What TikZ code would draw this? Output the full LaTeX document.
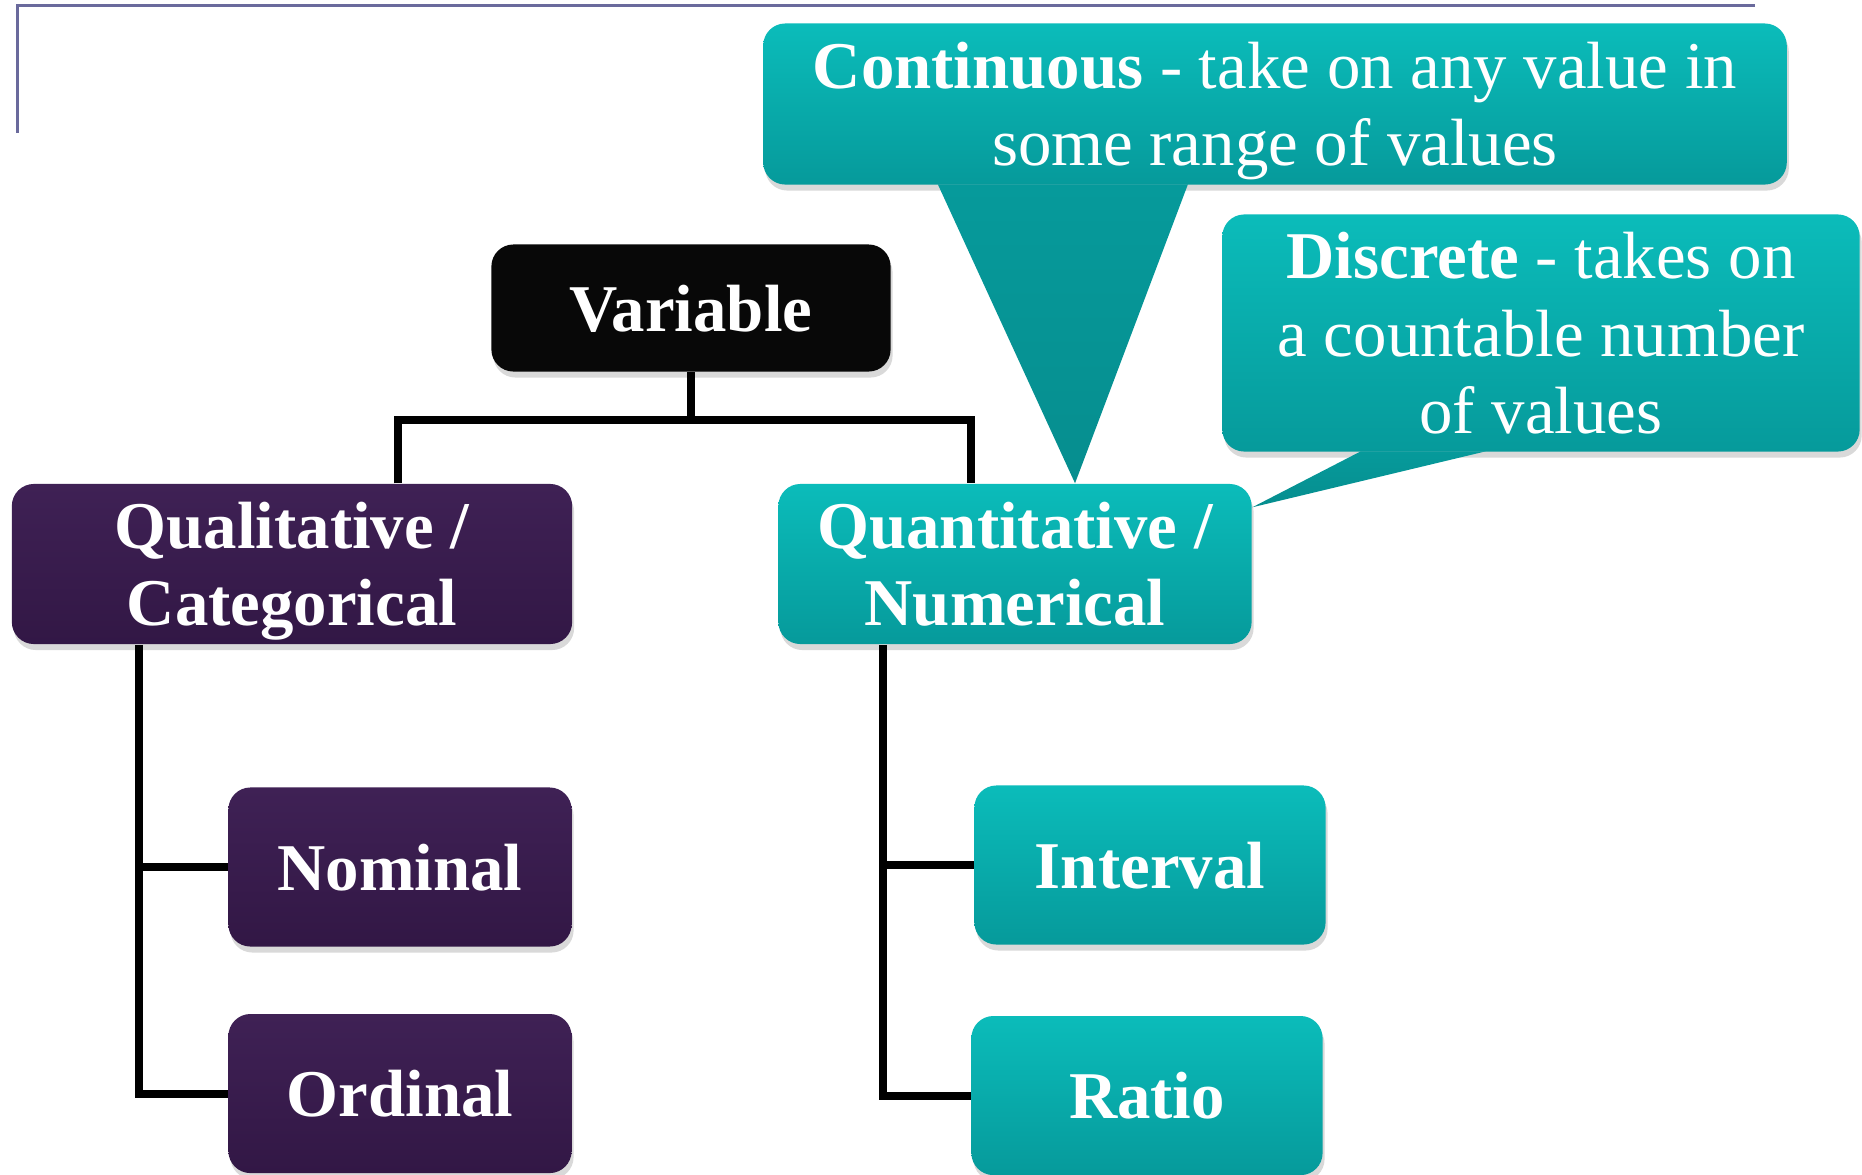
\documentclass[tikz,border=0pt]{standalone}
\usepackage{fontspec}
\setmainfont{Liberation Serif}
\usetikzlibrary{positioning,shadows}
\definecolor{framelilac}{HTML}{6A6A9C}
\definecolor{qualtop}{HTML}{3F2155}
\definecolor{qualbot}{HTML}{321745}
\definecolor{quanttop}{HTML}{0BBCBA}
\definecolor{quantbot}{HTML}{069A9B}

\begin{document}
\begin{tikzpicture}[x=0.01cm,y=-0.01cm,
  every node/.style={font=\fontsize{19}{22}\selectfont,text=white,align=center,inner sep=0pt,text depth=0pt},
  boxbase/.style={rounded corners=0.22cm,drop shadow={shadow xshift=0.02cm,shadow yshift=-0.06cm,opacity=0.3}},
  qualbox/.style={boxbase,top color=qualtop,bottom color=qualbot,font=\fontsize{19}{22}\selectfont\bfseries,minimum width=3.43cm,minimum height=1.59cm},
  quantbox/.style={boxbase,top color=quanttop,bottom color=quantbot,font=\fontsize{19}{22}\selectfont\bfseries,minimum width=3.51cm,minimum height=1.59cm},
  link/.style={line width=2.3pt,line join=miter}]
\useasboundingbox (0,0) rectangle (1862,1175);

% frame corner
\draw[framelilac,line width=0.035cm] (1755,5.5) -- (17.5,5.5) -- (17.5,133);

% tree
\node[boxbase,fill=black!97,font=\fontsize{19}{22}\selectfont\bfseries,minimum width=3.99cm,minimum height=1.27cm] (var) at (691,308) {Variable};
\node[qualbox,minimum width=5.60cm,minimum height=1.60cm] (qual) at (292,564) {Qualitative /\\Categorical};
\node[quantbox,minimum width=4.73cm,minimum height=1.60cm] (quant) at (1015,564) {Quantitative /\\Numerical};
\node[qualbox] (nominal) at (400,867) {Nominal};
\node[qualbox,below=0.66cm of nominal] (ordinal) {Ordinal};
\node[quantbox] (interval) at (1150,865) {Interval};
\node[quantbox,below=0.70cm of interval,xshift=-0.03cm] (ratio) {Ratio};

\draw[link] (var.south) -- ++(0,48) coordinate (hub);
\draw[link] ([xshift=1.06cm]qual.north) |- (hub) -| ([xshift=-0.44cm]quant.north);

\coordinate (qltrunk) at ([xshift=1.28cm]qual.south west);
\draw[link] (qltrunk) |- (ordinal.west);
\draw[link] (qltrunk |- nominal.west) -- (nominal.west);
\coordinate (qntrunk) at ([xshift=1.05cm]quant.south west);
\draw[link] (qntrunk) |- (ratio.west);
\draw[link] (qntrunk |- interval.west) -- (interval.west);

% callouts
\node[boxbase,top color=quanttop,bottom color=quantbot,minimum width=10.23cm,minimum height=1.61cm] (cont) at (1275,104)
  {\textbf{Continuous} - take on any value in\\some range of values};
\node[boxbase,top color=quanttop,bottom color=quantbot,minimum width=6.37cm,minimum height=2.37cm] (disc) at (1541,333)
  {\textbf{Discrete} - takes on\\a countable number\\of values};
\shade[top color=quantbot,bottom color=quantbot!92!black]
  ([xshift=-3.37cm,yshift=0.01cm]cont.south) -- ([xshift=0.6cm]quant.north) -- ([xshift=-0.87cm,yshift=0.01cm]cont.south) -- cycle;
\shade[top color=quantbot,bottom color=quantbot!92!black]
  ([xshift=-1.80cm,yshift=0.01cm]disc.south) -- ([yshift=-0.24cm]quant.north east) -- ([xshift=-0.55cm,yshift=0.01cm]disc.south) -- cycle;
\end{tikzpicture}
\end{document}
